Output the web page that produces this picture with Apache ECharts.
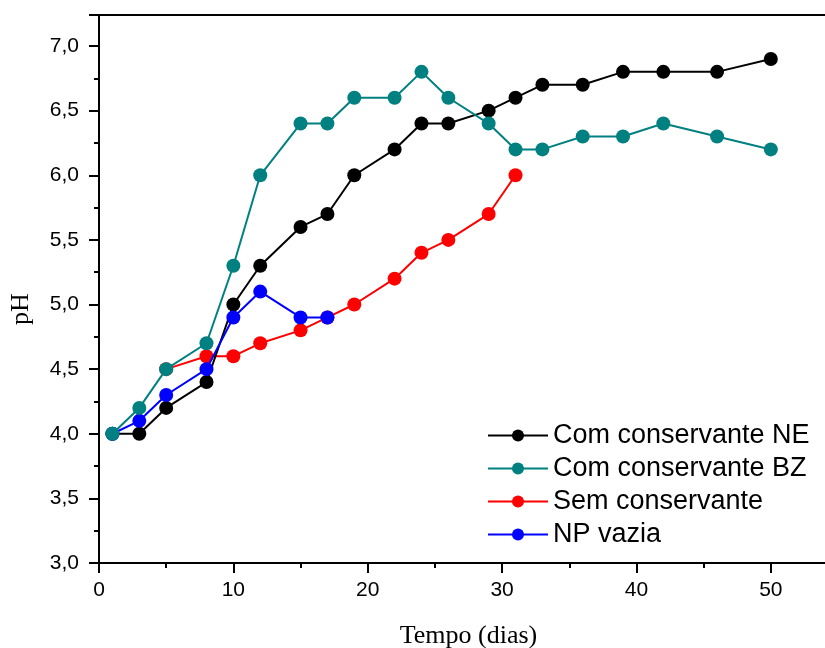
<!DOCTYPE html>
<html><head><meta charset="utf-8">
<script src="https://cdn.jsdelivr.net/npm/echarts@6/dist/echarts.min.js"></script>
<style>html,body{margin:0;padding:0;background:#fff;overflow:hidden}#c{width:825px;height:648px}</style>
</head><body><div id="c"></div>
<script>
const daysNE = [1,3,5,8,10,12,15,17,19,22,24,26,29,31,33,36,39,42,46,50];
const phNE   = [4.0,4.0,4.2,4.4,5.0,5.3,5.6,5.7,6.0,6.2,6.4,6.4,6.5,6.6,6.7,6.7,6.8,6.8,6.8,6.9];
const daysBZ = [1,3,5,8,10,12,15,17,19,22,24,26,29,31,33,36,39,42,46,50];
const phBZ   = [4.0,4.2,4.5,4.7,5.3,6.0,6.4,6.4,6.6,6.6,6.8,6.6,6.4,6.2,6.2,6.3,6.3,6.4,6.3,6.2];
const daysSem = [5,8,10,12,15,17,19,22,24,26,29,31];
const phSem   = [4.5,4.6,4.6,4.7,4.8,4.9,5.0,5.2,5.4,5.5,5.7,6.0];
const daysNP = [1,3,5,8,10,12,15,17];
const phNP   = [4.0,4.1,4.3,4.5,4.9,5.1,4.9,4.9];
const names = ['Com conservante NE','Com conservante BZ','Sem conservante','NP vazia'];
const colors = ['#000000','#008080','#ff0000','#0000ff'];

const pair = (xs, ys) => xs.map((x, i) => [x, ys[i]]);
const sans = '"Liberation Sans", Arial, sans-serif';
const serif = '"Liberation Serif", "Times New Roman", serif';

const chart = echarts.init(document.getElementById('c'), null, {renderer: 'canvas'});
function mk(name, idx, xs, ys, z) {
  return {
    name: name, type: 'line', data: pair(xs, ys), z: z,
    xAxisIndex: 0, yAxisIndex: 0,
    symbol: 'circle', symbolSize: 14,
    lineStyle: {color: colors[idx], width: 2},
    itemStyle: {color: colors[idx]},
    animation: false
  };
}
const line2 = {show: true, lineStyle: {color: '#000', width: 2}};
chart.setOption({
  backgroundColor: '#fff',
  animation: false,
  grid: {left: 99, top: 15, width: 739, height: 548, outerBoundsMode: 'none', containLabel: false},
  legend: {
    data: names, left: 487, top: 422, orient: 'vertical', padding: 0,
    itemWidth: 60, itemHeight: 15, itemGap: 6,
    textStyle: {fontFamily: sans, fontSize: 27, color: '#000', lineHeight: 27}
  },
  xAxis: [
    {type: 'value', position: 'bottom', min: 0, max: 55, interval: 10,
     name: 'Tempo (dias)', nameLocation: 'middle', nameGap: 60,
     nameTextStyle: {fontFamily: serif, fontSize: 26, color: '#000'},
     axisLine: line2, axisTick: {show: true, inside: false, length: 10, lineStyle: {width: 2, color: '#000'}},
     axisLabel: {margin: 17, fontFamily: sans, fontSize: 21, color: '#000',
       formatter: v => (v % 10 === 0 && v <= 50) ? String(v) : ''},
     splitLine: {show: false}},
    {type: 'value', position: 'bottom', min: 0, max: 55, interval: 5,
     axisLine: {show: false}, axisTick: {show: true, inside: false, length: 5, lineStyle: {width: 2, color: '#000'}},
     axisLabel: {show: false}, splitLine: {show: false}},
    {type: 'value', position: 'top', min: 0, max: 55,
     axisLine: line2, axisTick: {show: false}, axisLabel: {show: false}, splitLine: {show: false}}
  ],
  yAxis: [
    {type: 'value', position: 'left', min: 3, max: 7.24, interval: 0.5,
     name: 'pH', nameLocation: 'middle', nameGap: 65,
     nameTextStyle: {fontFamily: serif, fontSize: 26, color: '#000', padding: [0, 40, 0, 0]},
     axisLine: line2, axisTick: {show: true, inside: false, length: 10, lineStyle: {width: 2, color: '#000'}},
     axisLabel: {margin: 20, fontFamily: sans, fontSize: 21, color: '#000',
       formatter: v => (Math.abs(v * 2 - Math.round(v * 2)) < 1e-6) ? v.toFixed(1).replace('.', ',') : ''},
     splitLine: {show: false}},
    {type: 'value', position: 'left', min: 3, max: 7.24, interval: 0.25,
     axisLine: {show: false}, axisTick: {show: true, inside: false, length: 5, lineStyle: {width: 2, color: '#000'}},
     axisLabel: {show: false}, splitLine: {show: false}}
  ],
  series: [
    mk(names[2], 2, daysSem, phSem, 1),
    mk(names[0], 0, daysNE, phNE, 2),
    mk(names[3], 3, daysNP, phNP, 3),
    mk(names[1], 1, daysBZ, phBZ, 4)
  ]
});
</script></body></html>
